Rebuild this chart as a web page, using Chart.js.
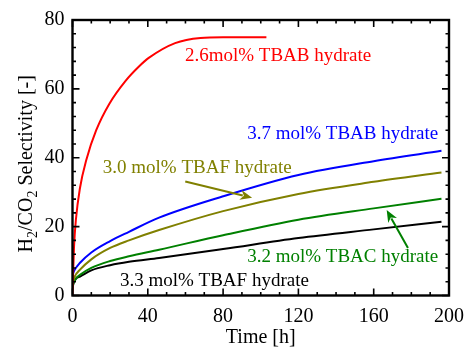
<!DOCTYPE html>
<html>
<head>
<meta charset="utf-8">
<script src="https://cdn.jsdelivr.net/npm/chart.js@4/dist/chart.umd.min.js"></script>
<style>
  html, body { margin: 0; padding: 0; background: #fff; }
  #wrap { width: 473px; height: 350px; position: relative; }
  .probe { font-family: "Liberation Serif"; position: absolute; left: -999px; top: -999px; }
</style>
</head>
<body>
<span class="probe">Selectivity 0123</span>
<div id="wrap"><canvas id="c"></canvas></div>
<script>
// ---- data (time [h], selectivity [-]) ----
const xTicks = [0, 40, 80, 120, 160, 200];
const yTicks = [0, 20, 40, 60, 80];

const tbab26Time = [0, 0.3, 0.8, 1.8, 3.9, 7.4, 12.6, 19.6, 28.3, 35.3, 40.5, 54.5, 68, 80, 103];
const tbab26Sel  = [0, 6, 14, 22, 31, 39.5, 48, 55.7, 62.4, 66.5, 69, 73.3, 74.8, 75, 75];

const tbab37Time = [0, 1, 4, 10, 20, 30, 46, 80, 120, 160, 196];
const tbab37Sel  = [6, 7.3, 9.5, 12.5, 15.8, 18.5, 22.6, 28.8, 35, 39, 42];

const tbaf30Time = [0, 1, 4, 10, 20, 30, 46, 80, 120, 160, 196];
const tbaf30Sel  = [3.5, 5.3, 7.5, 10.5, 13.8, 16, 19, 24.5, 29.5, 33, 35.7];

const tbac32Time = [0, 0.5, 2, 4, 10, 20, 30, 46, 80, 120, 160, 196];
const tbac32Sel  = [2.5, 3.5, 5, 6, 8, 10, 11.4, 13.3, 17.5, 22, 25.3, 28.1];

const tbaf33Time = [0, 0.5, 2, 4, 10, 20, 30, 46, 80, 120, 160, 196];
const tbaf33Sel  = [2, 3.5, 5, 5.5, 7.3, 8.8, 9.8, 10.9, 13.5, 16.7, 19.2, 21.4];

const seriesNames = ["2.6mol% TBAB hydrate", "3.7 mol% TBAB hydrate", "3.0 mol% TBAF hydrate", "3.2 mol% TBAC hydrate", "3.3 mol% TBAF hydrate"];
// ------------------------------------------------------------------

const COLORS = ['#ff0000', '#0000ff', '#808000', '#008000', '#000000'];
const FONT = '"Liberation Serif", serif';
Chart.defaults.font.family = FONT;
Chart.defaults.color = '#000';

function pts(xs, ys) { return xs.map((v, i) => ({ x: v, y: ys[i] })); }
const allSeries = [
  [tbab26Time, tbab26Sel], [tbab37Time, tbab37Sel], [tbaf30Time, tbaf30Sel],
  [tbac32Time, tbac32Sel], [tbaf33Time, tbaf33Sel]
];

// annotation placement (in data units: time, selectivity)
const labels = [
  { text: seriesNames[0], t: 59.7, v: 68.0, color: COLORS[0] },
  { text: seriesNames[1], t: 92.8, v: 45.3, color: COLORS[1] },
  { text: seriesNames[2], t: 16.1, v: 35.7, color: COLORS[2] },
  { text: seriesNames[3], t: 92.8, v: 9.7,  color: COLORS[3] },
  { text: seriesNames[4], t: 25.2, v: 2.9,  color: COLORS[4] }
];
const arrows = [
  { from: [59.9, 33.1], to: [95.4, 28.4], color: COLORS[2] },
  { from: [178.2, 13.8], to: [166.9, 24.8], color: COLORS[3] }
];

const decor = {
  id: 'decor',
  afterDatasetsDraw(chart) {
    const { ctx, chartArea: { left, right, top, bottom }, scales: { x, y } } = chart;
    ctx.save();
    ctx.strokeStyle = '#000';
    ctx.lineWidth = 1.6;
    ctx.beginPath();
    for (let v = 0; v <= 200; v += 10) {
      const px = x.getPixelForValue(v);
      const L = v % 40 === 0 ? 7 : 3.5;
      ctx.moveTo(px, bottom); ctx.lineTo(px, bottom - L);
      ctx.moveTo(px, top); ctx.lineTo(px, top + L);
    }
    for (let v = 0; v <= 80; v += 4) {
      const py = y.getPixelForValue(v);
      const L = v % 20 === 0 ? 7 : 3.5;
      ctx.moveTo(left, py); ctx.lineTo(left + L, py);
      ctx.moveTo(right, py); ctx.lineTo(right - L, py);
    }
    ctx.stroke();
    ctx.lineWidth = 2.4;
    ctx.strokeRect(left, top, right - left, bottom - top);

    // series labels
    ctx.font = '19px ' + FONT;
    ctx.textBaseline = 'alphabetic';
    ctx.textAlign = 'left';
    labels.forEach(l => {
      ctx.fillStyle = l.color;
      ctx.fillText(l.text, x.getPixelForValue(l.t), y.getPixelForValue(l.v));
    });

    // arrows
    arrows.forEach(a => {
      const x1 = x.getPixelForValue(a.from[0]), y1 = y.getPixelForValue(a.from[1]);
      const x2 = x.getPixelForValue(a.to[0]), y2 = y.getPixelForValue(a.to[1]);
      const ang = Math.atan2(y2 - y1, x2 - x1);
      const hl = 12, hw = 5;
      ctx.strokeStyle = a.color; ctx.fillStyle = a.color; ctx.lineWidth = 2;
      ctx.beginPath();
      ctx.moveTo(x1, y1);
      ctx.lineTo(x2 - Math.cos(ang) * hl * 0.8, y2 - Math.sin(ang) * hl * 0.8);
      ctx.stroke();
      ctx.beginPath();
      ctx.moveTo(x2, y2);
      ctx.lineTo(x2 - Math.cos(ang) * hl + Math.sin(ang) * hw, y2 - Math.sin(ang) * hl - Math.cos(ang) * hw);
      ctx.lineTo(x2 - Math.cos(ang) * hl * 0.7, y2 - Math.sin(ang) * hl * 0.7);
      ctx.lineTo(x2 - Math.cos(ang) * hl - Math.sin(ang) * hw, y2 - Math.sin(ang) * hl + Math.cos(ang) * hw);
      ctx.closePath();
      ctx.fill();
    });
    ctx.restore();
  },
  afterDraw(chart) {
    // y-axis title with subscripts
    const { ctx, chartArea: { top, bottom } } = chart;
    const big = '20px ' + FONT, small = '14px ' + FONT;
    const parts = [['H', big, 0], ['2', small, 5], ['/CO', big, 0], ['2', small, 5], [' Selectivity [-]', big, 0]];
    ctx.save();
    let total = 0;
    parts.forEach(p => { ctx.font = p[1]; total += ctx.measureText(p[0]).width; });
    const cy = (top + bottom) / 2 + 6;
    ctx.translate(32, cy);
    ctx.rotate(-Math.PI / 2);
    ctx.fillStyle = '#000';
    ctx.textBaseline = 'alphabetic';
    let cx = -total / 2;
    parts.forEach(p => {
      ctx.font = p[1];
      ctx.fillText(p[0], cx, p[2]);
      cx += ctx.measureText(p[0]).width;
    });
    ctx.restore();
  }
};

const chart = new Chart(document.getElementById('c'), {
  type: 'scatter',
  data: {
    datasets: allSeries.map((s, i) => ({
      label: seriesNames[i],
      data: pts(s[0], s[1]),
      showLine: true,
      borderColor: COLORS[i],
      backgroundColor: COLORS[i],
      borderWidth: 2,
      pointRadius: 0,
      cubicInterpolationMode: 'monotone'
    }))
  },
  options: {
    responsive: true,
    maintainAspectRatio: false,
    animation: false,
    layout: { padding: { top: 15.5, right: 18, bottom: 0, left: 0 } },
    plugins: { legend: { display: false }, tooltip: { enabled: false } },
    scales: {
      x: {
        type: 'linear', min: 0, max: 200,
        afterBuildTicks: s => { s.ticks = xTicks.map(v => ({ value: v })); },
        afterFit: s => { s.height = 54.5; },
        grid: { display: false, drawTicks: false },
        border: { display: false },
        ticks: { font: { size: 20 }, padding: 9, autoSkip: false, maxRotation: 0 },
        title: { display: true, text: 'Time [h]', font: { size: 20 }, padding: { top: 0, bottom: 0 } }
      },
      y: {
        type: 'linear', min: 0, max: 80,
        afterBuildTicks: s => { s.ticks = yTicks.map(v => ({ value: v })); },
        afterFit: s => { s.width = 72.5; },
        grid: { display: false, drawTicks: false },
        border: { display: false },
        ticks: { font: { size: 20 }, padding: 8 }
      }
    }
  },
  plugins: [decor]
});
if (document.fonts && document.fonts.ready) {
  document.fonts.load('20px "Liberation Serif"').then(() => chart.update()).catch(() => {});
  document.fonts.ready.then(() => chart.update());
}
</script>
</body>
</html>
